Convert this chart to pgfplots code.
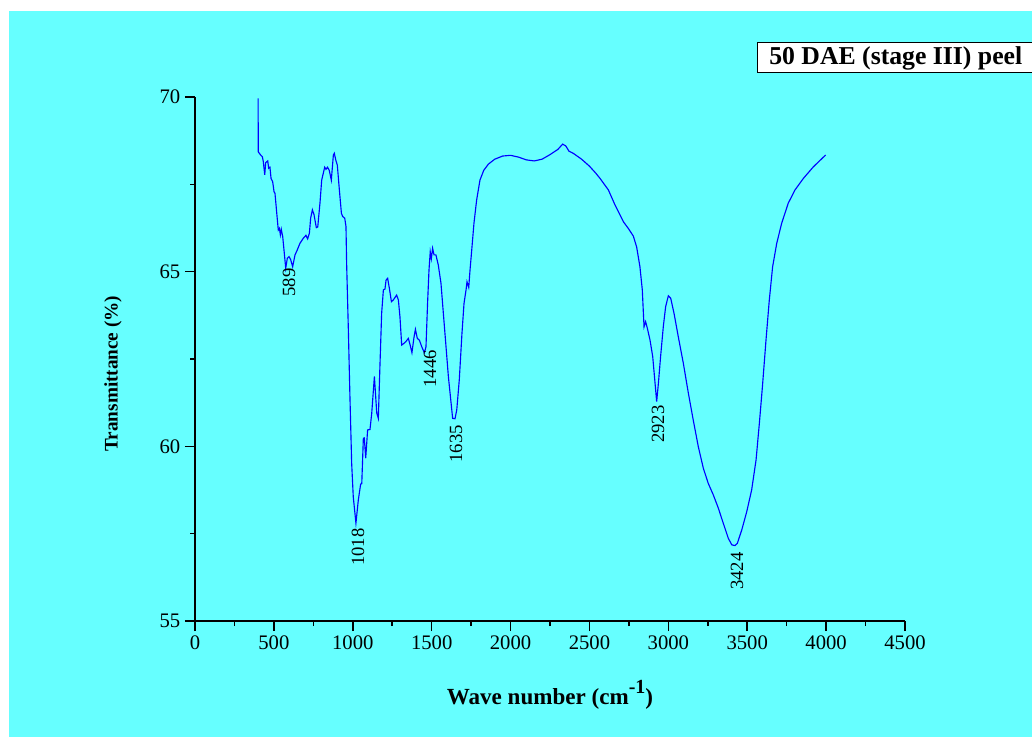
\documentclass[border=0pt]{standalone}
\usepackage{pgfplots}
\pgfplotsset{compat=1.18}
\usepackage{fontspec}
\setmainfont{Liberation Serif}
\definecolor{bgcyan}{HTML}{66FFFF}
\begin{document}
\begin{tikzpicture}
\useasboundingbox (0,0) rectangle (774pt,-552.75pt);
\fill[white] (0,0) rectangle (774pt,-552.75pt);
\begin{scope}[x=0.75pt,y=-0.75pt]
\fill[bgcyan] (9,11) rectangle (1032,737);
\filldraw[fill=white,draw=black,line width=0.6pt] (757,42) rectangle (1040,72);
\node[anchor=base west,inner sep=0pt,font=\fontsize{19.3}{22}\selectfont\bfseries] at (769,65) {50 DAE (stage III) peel};
\end{scope}
\begin{axis}[
  at={(146.25pt,-465.75pt)}, anchor=south west,
  scale only axis, width=532.5pt, height=393pt,
  xmin=0, xmax=4500, ymin=55, ymax=70,
  axis lines*=left,
  axis line style={-, line width=1.2pt},
  xtick={0,500,...,4500}, ytick={55,60,65,70},
  minor x tick num=1, minor y tick num=1,
  tick align=outside,
  major tick length=7.5pt, minor tick length=3.75pt,
  tick style={line width=1.2pt, black},
  /pgf/number format/assume math mode=true,
  /pgf/number format/set thousands separator={},
  ticklabel style={font=\fontsize{15.5}{18}\selectfont},
  xlabel={\textbf{Wave number (cm\raisebox{0.5em}{\fontsize{15}{15}\selectfont -1})}},
  ylabel={\textbf{Transmittance (\%)}},
  xlabel style={at={(rel axis cs:0.5,-0.160)}, anchor=base, font=\fontsize{17.3}{20}\selectfont},
  ylabel style={at={(rel axis cs:-0.1155,0.472)}, anchor=center, font=\fontsize{14.4}{17}\selectfont},
  clip=false,
]
\addplot[blue, line width=0.85pt] coordinates {
(400,69.96) (401,68.43) (416,68.34) (427,68.29) (433,68.15) (442,67.77) (448,68.12) (461,68.17)
(467,67.96) (475,67.99) (482,67.67) (492,67.58) (501,67.29) (507,67.24) (522,66.48) (528,66.19)
(535,66.24) (541,66.05) (547,66.21) (556,66.0) (575,65.10) (585,65.38) (596,65.43) (606,65.35)
(619,65.14) (634,65.48) (648,65.62) (665,65.81) (687,65.96) (703,66.04) (714,65.94) (725,66.10)
(733,66.53) (744,66.77) (754,66.64) (769,66.26) (778,66.28) (792,66.96) (803,67.62) (822,67.99)
(830,67.93) (840,67.99) (851,67.90) (864,67.62) (877,68.34) (883,68.39) (892,68.20) (902,68.05)
(915,67.34) (928,66.67) (936,66.58) (949,66.53) (957,66.29) (961,65.24) (972,63.33) (982,61.42)
(993,59.51) (1003,58.56) (1020,57.80) (1035,58.46) (1050,58.92) (1057,58.93) (1067,60.23) (1073,60.24)
(1082,59.66) (1094,60.47) (1109,60.48) (1120,60.94) (1137,62.0) (1152,60.95) (1162,60.80) (1172,62.28)
(1183,63.81) (1194,64.48) (1204,64.50) (1211,64.76) (1221,64.81) (1232,64.52) (1245,64.14) (1257,64.19)
(1278,64.33) (1289,64.19) (1299,63.71) (1310,62.90) (1325,62.95) (1337,63.0) (1352,63.09) (1362,62.93)
(1375,62.68) (1388,63.12) (1397,63.35) (1409,63.09) (1422,63.04) (1439,62.83) (1454,62.68) (1464,62.85)
(1474,64.09) (1483,65.04) (1491,65.57) (1498,65.37) (1506,65.67) (1515,65.48) (1527,65.48) (1542,65.19)
(1559,64.67) (1574,63.81) (1591,62.85) (1606,61.99) (1621,61.33) (1633,60.80) (1648,60.79) (1659,61.04)
(1675,61.90) (1692,63.23) (1705,64.09) (1718,64.48) (1724,64.71) (1735,64.55) (1743,65.04) (1754,65.62)
(1768,66.38) (1785,67.05) (1806,67.62) (1830,67.90) (1860,68.08) (1900,68.22) (1950,68.31) (2000,68.33)
(2050,68.28) (2100,68.20) (2150,68.17) (2200,68.22) (2250,68.35) (2300,68.50) (2330,68.65) (2350,68.60)
(2370,68.45) (2400,68.38) (2450,68.22) (2500,68.02) (2540,67.82) (2567,67.67) (2620,67.34) (2662,66.91)
(2715,66.43) (2746,66.24) (2778,66.02) (2799,65.71) (2820,65.14) (2835,64.48) (2846,63.42) (2856,63.57)
(2867,63.38) (2884,63.04) (2901,62.57) (2916,61.80) (2926,61.28) (2937,61.80) (2951,62.57) (2968,63.42)
(2983,64.0) (3000,64.31) (3015,64.24) (3036,63.81) (3063,63.14) (3095,62.38) (3127,61.52) (3158,60.75)
(3190,59.99) (3222,59.37) (3253,58.94) (3285,58.61) (3317,58.23) (3348,57.80) (3380,57.37) (3402,57.18)
(3422,57.16) (3437,57.22) (3465,57.60) (3497,58.13) (3528,58.75) (3556,59.61) (3577,60.66) (3598,61.80)
(3619,63.04) (3640,64.19) (3661,65.14) (3687,65.81) (3718,66.38) (3760,66.96) (3803,67.34) (3856,67.67)
(3919,68.0) (3997,68.34)
};
\begin{scope}[every node/.style={rotate=90, anchor=east, inner sep=0pt, font=\fontsize{14}{16}\selectfont}]
\node at (axis cs:596,65.10) {589};
\node at (axis cs:1033,57.66) {1018};
\node at (axis cs:1489,62.76) {1446};
\node at (axis cs:1654,60.61) {1635};
\node at (axis cs:2934,61.18) {2923};
\node at (axis cs:3435,56.97) {3424};
\end{scope}
\end{axis}
\end{tikzpicture}
\end{document}
